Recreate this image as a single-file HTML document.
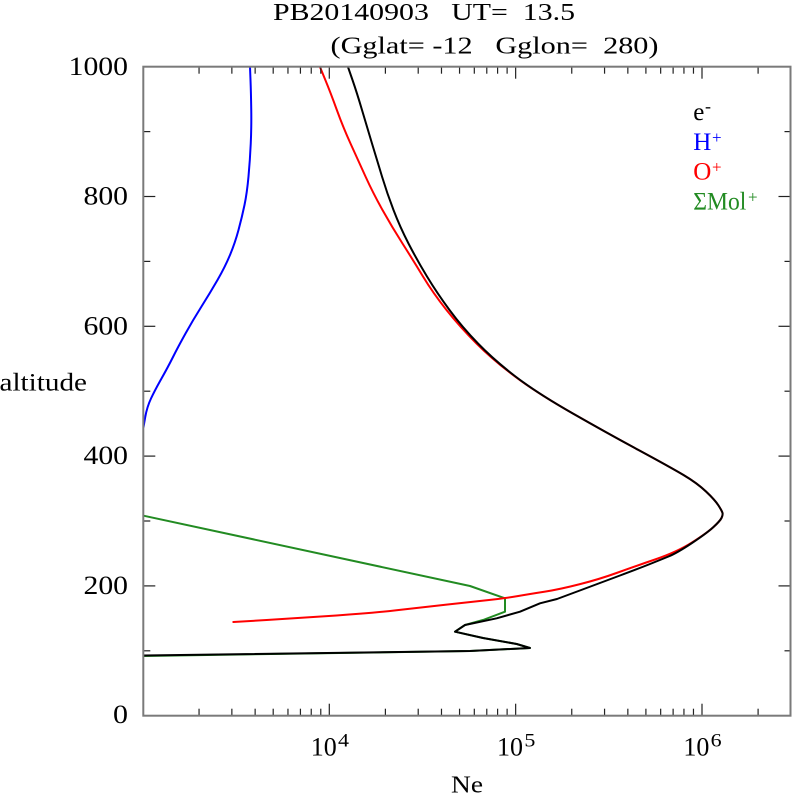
<!DOCTYPE html>
<html>
<head>
<meta charset="utf-8">
<style>
  html, body { margin: 0; padding: 0; background: #ffffff; }
  svg { display: block; }
  text { font-family: "Liberation Serif", "DejaVu Serif", serif; fill: #000; }
</style>
</head>
<body>
<svg width="792" height="796" viewBox="0 0 792 796" xmlns="http://www.w3.org/2000/svg">
  <rect x="0" y="0" width="792" height="796" fill="#ffffff"/>

  <!-- Title -->
  <text x="273" y="20" font-size="24" textLength="302" lengthAdjust="spacingAndGlyphs" xml:space="preserve">PB20140903   UT=  13.5</text>
  <text x="330.5" y="53.5" font-size="24" textLength="328" lengthAdjust="spacingAndGlyphs" xml:space="preserve">(Gglat= -12   Gglon=  280)</text>

  <!-- Curves -->
  <g fill="none" stroke-width="2" stroke-linejoin="round" stroke-linecap="round">
    <!-- green: sum Mol+ -->
    <polyline stroke="#228b22" points="143.5,515.7 470,586 505,598.3 505,611.7 483,620 465,625 455,631.7 483,638 516.7,644 530,648 470,651 143.5,656"/>
    <!-- red: O+ -->
    <path stroke="#ff0000" d="M320,67 L325.35,80 Q330.7,93 336.85,110 Q343,127 350.5,143.5 Q358,160 365.5,176.5 Q373,193 382.5,210 Q392,227 402.5,243.5 Q413,260 423,276.5 Q433,293 446.5,310 Q460,327 476.5,343.5 Q493,360 515,376.5 Q537,393 572,413 Q607,433 638.5,450 Q670,467 683.5,475 Q697,483 706,491.5 Q715,500 718.5,505.5 Q722,511 722.5,513 Q723,515 721.5,518 Q720,521 713.5,527 Q707,533 692,542.5 Q677,552 655,559.5 Q633,567 616.5,573 Q600,579 580,584.15 Q560,589.3 545,591.65 Q530,594 517.5,596.15 Q505,598.3 489,600 Q473,601.7 446.5,604.6 Q420,607.5 396.5,610.25 Q373,613 336.5,615.5 Q300,618 266.65,620 L233.3,622"/>
    <!-- black: e- -->
    <path stroke="#000000" d="M348,67 L352.5,80 Q357,93 362,110 Q367,127 372,143.5 Q377,160 382,176.5 Q387,193 393.5,210 Q400,227 408.5,243.5 Q417,260 427,276.5 Q437,293 449.5,310 Q462,327 478,343.5 Q494,360 515.5,376.5 Q537,393 572,413 Q607,433 638.5,450 Q670,467 683.5,475 Q697,483 706,491.5 Q715,500 718.5,505.5 Q722,511 722.5,513 Q723,515 721.5,518 Q720,521 713.5,527 Q707,533 692,543 Q677,553 668.5,556.5 Q660,560 650,564 Q640,568 620,575.5 Q600,583 578.5,591 L557,599 L540,603.3 L520,611.7 L496.7,618.3 L465,625 L455,631.7 L483,638 L516.7,644 L530,648 L470,651 L143.5,655.5"/>
    <!-- blue: H+ -->
    <path stroke="#0000ff" d="M250,67 L250.5,80 Q251,93 251.25,110 Q251.5,127 250.75,143.5 Q250,160 248.5,176.5 Q247,193 244.5,205 Q242,217 238.5,230 Q235,243 230,255 Q225,267 217.5,280 Q210,293 201.5,306.5 Q193,320 185.5,333.5 Q178,347 173,357 Q168,367 161.5,378.5 Q155,390 151,398.5 Q147,407 145.25,417 L143.5,427"/>
  </g>

  <!-- Ticks -->
  <g stroke="#222" stroke-width="1.2">
    <!-- left y ticks -->
    <line x1="143.3" y1="715.7" x2="155.3" y2="715.7"/>
    <line x1="143.3" y1="650.8" x2="150.3" y2="650.8"/>
    <line x1="143.3" y1="585.9" x2="155.3" y2="585.9"/>
    <line x1="143.3" y1="521.0" x2="150.3" y2="521.0"/>
    <line x1="143.3" y1="456.1" x2="155.3" y2="456.1"/>
    <line x1="143.3" y1="391.2" x2="150.3" y2="391.2"/>
    <line x1="143.3" y1="326.3" x2="155.3" y2="326.3"/>
    <line x1="143.3" y1="261.4" x2="150.3" y2="261.4"/>
    <line x1="143.3" y1="196.5" x2="155.3" y2="196.5"/>
    <line x1="143.3" y1="131.6" x2="150.3" y2="131.6"/>
    <!-- right y ticks -->
    <line x1="784.5" y1="650.8" x2="790.5" y2="650.8"/>
    <line x1="778.5" y1="585.9" x2="790.5" y2="585.9"/>
    <line x1="784.5" y1="521.0" x2="790.5" y2="521.0"/>
    <line x1="778.5" y1="456.1" x2="790.5" y2="456.1"/>
    <line x1="784.5" y1="391.2" x2="790.5" y2="391.2"/>
    <line x1="778.5" y1="326.3" x2="790.5" y2="326.3"/>
    <line x1="784.5" y1="261.4" x2="790.5" y2="261.4"/>
    <line x1="778.5" y1="196.5" x2="790.5" y2="196.5"/>
    <line x1="784.5" y1="131.6" x2="790.5" y2="131.6"/>

    <!-- bottom x ticks -->
    <g>
      <line x1="199.05" y1="715.7" x2="199.05" y2="708.7"/>
      <line x1="231.86" y1="715.7" x2="231.86" y2="708.7"/>
      <line x1="255.14" y1="715.7" x2="255.14" y2="708.7"/>
      <line x1="273.2" y1="715.7" x2="273.2" y2="708.7"/>
      <line x1="287.96" y1="715.7" x2="287.96" y2="708.7"/>
      <line x1="300.43" y1="715.7" x2="300.43" y2="708.7"/>
      <line x1="311.24" y1="715.7" x2="311.24" y2="708.7"/>
      <line x1="320.77" y1="715.7" x2="320.77" y2="708.7"/>
      <line x1="329.3" y1="715.7" x2="329.3" y2="703.7"/>
      <line x1="385.4" y1="715.7" x2="385.4" y2="708.7"/>
      <line x1="418.21" y1="715.7" x2="418.21" y2="708.7"/>
      <line x1="441.49" y1="715.7" x2="441.49" y2="708.7"/>
      <line x1="459.55" y1="715.7" x2="459.55" y2="708.7"/>
      <line x1="474.31" y1="715.7" x2="474.31" y2="708.7"/>
      <line x1="486.78" y1="715.7" x2="486.78" y2="708.7"/>
      <line x1="497.59" y1="715.7" x2="497.59" y2="708.7"/>
      <line x1="507.12" y1="715.7" x2="507.12" y2="708.7"/>
      <line x1="515.65" y1="715.7" x2="515.65" y2="703.7"/>
      <line x1="571.75" y1="715.7" x2="571.75" y2="708.7"/>
      <line x1="604.56" y1="715.7" x2="604.56" y2="708.7"/>
      <line x1="627.84" y1="715.7" x2="627.84" y2="708.7"/>
      <line x1="645.9" y1="715.7" x2="645.9" y2="708.7"/>
      <line x1="660.66" y1="715.7" x2="660.66" y2="708.7"/>
      <line x1="673.13" y1="715.7" x2="673.13" y2="708.7"/>
      <line x1="683.94" y1="715.7" x2="683.94" y2="708.7"/>
      <line x1="693.47" y1="715.7" x2="693.47" y2="708.7"/>
      <line x1="702.0" y1="715.7" x2="702.0" y2="703.7"/>
      <line x1="758.1" y1="715.7" x2="758.1" y2="708.7"/>
    </g>
    <!-- top x ticks -->
    <g>
      <line x1="199.05" y1="66.7" x2="199.05" y2="73.7"/>
      <line x1="231.86" y1="66.7" x2="231.86" y2="73.7"/>
      <line x1="255.14" y1="66.7" x2="255.14" y2="73.7"/>
      <line x1="273.2" y1="66.7" x2="273.2" y2="73.7"/>
      <line x1="287.96" y1="66.7" x2="287.96" y2="73.7"/>
      <line x1="300.43" y1="66.7" x2="300.43" y2="73.7"/>
      <line x1="311.24" y1="66.7" x2="311.24" y2="73.7"/>
      <line x1="320.77" y1="66.7" x2="320.77" y2="73.7"/>
      <line x1="329.3" y1="66.7" x2="329.3" y2="78.7"/>
      <line x1="385.4" y1="66.7" x2="385.4" y2="73.7"/>
      <line x1="418.21" y1="66.7" x2="418.21" y2="73.7"/>
      <line x1="441.49" y1="66.7" x2="441.49" y2="73.7"/>
      <line x1="459.55" y1="66.7" x2="459.55" y2="73.7"/>
      <line x1="474.31" y1="66.7" x2="474.31" y2="73.7"/>
      <line x1="486.78" y1="66.7" x2="486.78" y2="73.7"/>
      <line x1="497.59" y1="66.7" x2="497.59" y2="73.7"/>
      <line x1="507.12" y1="66.7" x2="507.12" y2="73.7"/>
      <line x1="515.65" y1="66.7" x2="515.65" y2="78.7"/>
      <line x1="571.75" y1="66.7" x2="571.75" y2="73.7"/>
      <line x1="604.56" y1="66.7" x2="604.56" y2="73.7"/>
      <line x1="627.84" y1="66.7" x2="627.84" y2="73.7"/>
      <line x1="645.9" y1="66.7" x2="645.9" y2="73.7"/>
      <line x1="660.66" y1="66.7" x2="660.66" y2="73.7"/>
      <line x1="673.13" y1="66.7" x2="673.13" y2="73.7"/>
      <line x1="683.94" y1="66.7" x2="683.94" y2="73.7"/>
      <line x1="693.47" y1="66.7" x2="693.47" y2="73.7"/>
      <line x1="702.0" y1="66.7" x2="702.0" y2="78.7"/>
      <line x1="758.1" y1="66.7" x2="758.1" y2="73.7"/>
    </g>
  </g>

  <!-- Axes frame -->
  <rect x="143.3" y="66.7" width="647.2" height="649" fill="none" stroke="#7a7a7a" stroke-width="2"/>

  <!-- Y tick labels -->
  <g font-size="26" text-anchor="end">
    <text x="128" y="75" textLength="59.4" lengthAdjust="spacingAndGlyphs">1000</text>
    <text x="128" y="204.5" textLength="44.5" lengthAdjust="spacingAndGlyphs">800</text>
    <text x="128" y="334.3" textLength="44.5" lengthAdjust="spacingAndGlyphs">600</text>
    <text x="128" y="464" textLength="44.5" lengthAdjust="spacingAndGlyphs">400</text>
    <text x="128" y="593.9" textLength="44.5" lengthAdjust="spacingAndGlyphs">200</text>
    <text x="128" y="723" textLength="15" lengthAdjust="spacingAndGlyphs">0</text>
  </g>

  <!-- X tick labels -->
  <g>
    <text x="310.7" y="755.7" font-size="26" textLength="26" lengthAdjust="spacingAndGlyphs">10</text>
    <text x="338" y="746.7" font-size="19" textLength="11" lengthAdjust="spacingAndGlyphs">4</text>
    <text x="497" y="755.7" font-size="26" textLength="26" lengthAdjust="spacingAndGlyphs">10</text>
    <text x="524.4" y="746.7" font-size="19" textLength="11" lengthAdjust="spacingAndGlyphs">5</text>
    <text x="683.4" y="755.7" font-size="26" textLength="26" lengthAdjust="spacingAndGlyphs">10</text>
    <text x="710.7" y="746.7" font-size="19" textLength="11" lengthAdjust="spacingAndGlyphs">6</text>
  </g>

  <!-- Axis labels -->
  <text x="451" y="792.3" font-size="24" textLength="32" lengthAdjust="spacingAndGlyphs">Ne</text>
  <text x="-0.5" y="390.7" font-size="25" textLength="87.5" lengthAdjust="spacingAndGlyphs">altitude</text>

  <!-- Legend -->
  <g font-size="25">
    <text x="693.3" y="120" style="fill:#000">e</text>
    <text x="705" y="112" font-size="18" style="fill:#000">-</text>
    <text x="693.3" y="150" style="fill:#0000ff">H</text>
    <text x="712" y="143" font-size="17" style="fill:#0000ff">+</text>
    <text x="693.3" y="179.3" style="fill:#ff0000">O</text>
    <text x="712" y="172.3" font-size="17" style="fill:#ff0000">+</text>
    <text x="693.3" y="209.3" style="fill:#228b22" textLength="53" lengthAdjust="spacingAndGlyphs">ΣMol</text>
    <text x="748" y="202.3" font-size="17" style="fill:#228b22">+</text>
  </g>
</svg>
</body>
</html>
